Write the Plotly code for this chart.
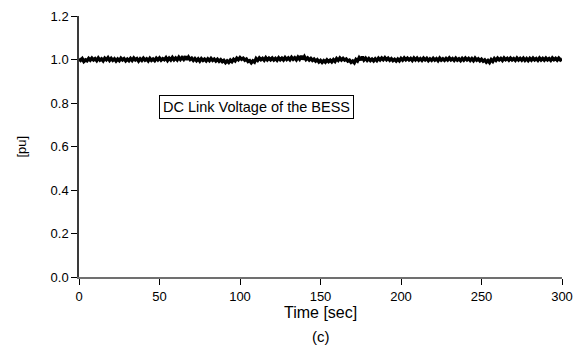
import plotly.graph_objects as go

time_sec = list(range(0, 301))

voltage_pu = [
    1.003, 0.996, 1.004, 0.991, 0.998, 0.994, 1.005, 0.997, 1.006, 0.998,
    1.004, 0.995, 1.007, 0.997, 1.003, 0.994, 1.006, 0.999, 1.008, 0.996,
    1.005, 0.996, 1.003, 0.993, 1.002, 0.995, 1.006, 0.998, 1.004, 0.994,
    1.002, 0.995, 1.005, 0.996, 1.007, 0.998, 1.004, 0.993, 1.003, 0.996,
    1.006, 0.997, 1.003, 0.994, 1.005, 0.996, 1.002, 0.995, 1.006, 0.998,
    1.007, 0.997, 1.004, 0.999, 1.008, 0.996, 1.006, 0.998, 1.009, 0.999,
    1.007, 0.998, 1.010, 1.000, 1.009, 1.001, 1.014, 0.999, 1.011, 1.000,
    1.006, 0.996, 1.004, 0.995, 1.003, 0.993, 1.004, 0.996, 1.002, 0.994,
    1.003, 0.995, 1.005, 0.996, 1.002, 0.993, 1.001, 0.992, 0.999, 0.990,
    0.996, 0.986, 0.994, 0.987, 0.997, 0.990, 1.001, 0.994, 1.006, 0.999,
    1.009, 1.001, 1.006, 0.997, 1.002, 0.991, 0.995, 0.985, 0.994, 0.988,
    1.004, 0.996, 1.007, 0.999, 1.005, 0.997, 1.008, 0.998, 1.006, 0.999,
    1.007, 0.998, 1.005, 0.997, 1.008, 0.999, 1.006, 0.998, 1.009, 1.000,
    1.007, 0.999, 1.010, 1.001, 1.008, 0.999, 1.011, 1.002, 1.016, 1.001,
    1.013, 1.000, 1.007, 0.998, 1.005, 0.996, 1.002, 0.993, 0.999, 0.989,
    0.996, 0.987, 0.995, 0.988, 0.998, 0.990, 0.997, 0.989, 0.999, 0.991,
    1.004, 0.996, 1.007, 0.998, 1.005, 0.997, 1.002, 0.993, 0.997, 0.987,
    0.993, 0.985, 1.000, 0.993, 1.008, 0.997, 1.013, 0.998, 1.006, 0.996,
    1.004, 0.995, 1.002, 0.994, 1.003, 0.995, 1.006, 0.998, 1.007, 0.999,
    1.008, 0.999, 1.006, 0.997, 1.004, 0.995, 1.001, 0.993, 1.002, 0.994,
    1.005, 0.997, 1.007, 0.999, 1.006, 0.998, 1.005, 0.996, 1.007, 0.998,
    1.006, 0.997, 1.004, 0.996, 1.006, 0.998, 1.005, 0.995, 1.003, 0.996,
    1.005, 0.997, 1.004, 0.995, 1.006, 0.997, 1.003, 0.996, 1.005, 0.998,
    1.007, 0.998, 1.004, 0.996, 1.006, 0.997, 1.003, 0.995, 1.005, 0.997,
    1.006, 0.998, 1.005, 0.996, 1.004, 0.995, 1.006, 0.997, 1.003, 0.994,
    1.001, 0.992, 0.998, 0.988, 0.995, 0.986, 0.999, 0.991, 1.004, 0.996,
    1.006, 0.998, 1.005, 0.996, 1.007, 0.999, 1.005, 0.997, 1.006, 0.998,
    1.004, 0.996, 1.007, 0.998, 1.005, 0.997, 1.006, 0.996, 1.004, 0.995,
    1.005, 0.997, 1.006, 0.998, 1.004, 0.996, 1.007, 0.998, 1.005, 0.997,
    1.006, 0.998, 1.004, 0.996, 1.007, 0.999, 1.005, 0.997, 1.006, 0.998,
    1.003,
]

x_ticks = [0, 50, 100, 150, 200, 250, 300]
y_ticks = [0.0, 0.2, 0.4, 0.6, 0.8, 1.0, 1.2]
y_tick_labels = ["0.0", "0.2", "0.4", "0.6", "0.8", "1.0", "1.2"]

label_text = "DC Link Voltage of the BESS"
x_title = "Time [sec]"
y_title = "[pu]"
caption = "(c)"

FONT = "Liberation Sans, Arial, sans-serif"

L, R, T, B = 79, 23, 9, 73
plot_h = 350 - T - B
plot_w = 585 - L - R

fig = go.Figure()
fig.add_trace(go.Scatter(
    x=time_sec, y=voltage_pu, mode="lines",
    line=dict(color="black", width=3.4),
    showlegend=False, hoverinfo="skip",
))

fig.update_layout(
    width=585, height=350,
    margin=dict(l=L, r=R, t=T, b=B),
    paper_bgcolor="white", plot_bgcolor="white",
    font=dict(family=FONT, size=13, color="black"),
    xaxis=dict(
        range=[0, 300], tickvals=x_ticks, ticks="outside", ticklen=6,
        tickcolor="black", tickwidth=1, showline=True, linecolor="#707070",
        linewidth=2, showgrid=False, zeroline=False,
        tickfont=dict(size=13, family=FONT),
    ),
    yaxis=dict(
        range=[0, 1.2], tickvals=y_ticks, ticktext=y_tick_labels,
        ticks="outside", ticklen=6, tickcolor="black", tickwidth=1,
        showline=True, linecolor="#3a3a3a", linewidth=1.5,
        showgrid=False, zeroline=False,
        tickfont=dict(size=13, family=FONT),
    ),
    annotations=[
        dict(x=110.5, y=0.78, xref="x", yref="y", text=label_text,
             showarrow=False, font=dict(size=14.5, family=FONT),
             bordercolor="black", borderwidth=1, borderpad=3,
             bgcolor="white"),
        dict(x=0.5, y=-(313 - 277) / plot_h, xref="paper", yref="paper",
             yanchor="middle", text=x_title,
             showarrow=False, font=dict(size=16, family=FONT)),
        dict(x=0.5, y=-(338 - 277) / plot_h, xref="paper", yref="paper",
             yanchor="middle", text=caption,
             showarrow=False, font=dict(size=15, family=FONT)),
        dict(x=-(79 - 21) / plot_w, y=0.5, xref="paper", yref="paper",
             xanchor="center", text=y_title,
             textangle=-90, showarrow=False, font=dict(size=13, family=FONT)),
    ],
)

fig.write_html("out.html")
